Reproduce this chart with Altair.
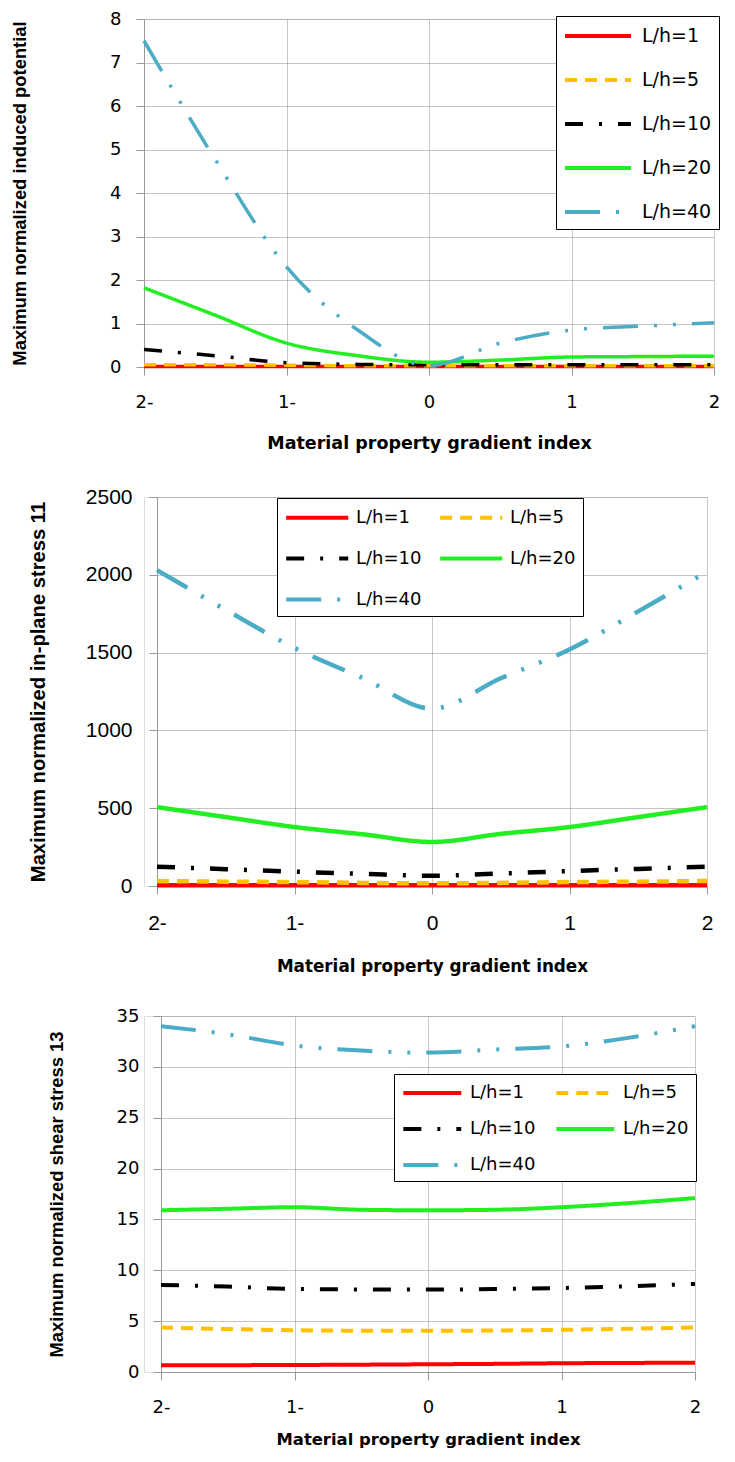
import altair as alt
import pandas as pd

# ---------------- data ----------------
x_index = [-2, -1.5, -1, -0.5, 0, 0.5, 1, 1.5, 2]
series_names = ["L/h=1", "L/h=5", "L/h=10", "L/h=20", "L/h=40"]
series_colors = ["#FF0000", "#FFC000", "#000000", "#22EE22", "#4BACC6"]
series_dashes = [[1, 0], [12, 8], [18, 16, 3, 16], [1, 0], [35, 16, 3, 16, 3, 16]]
x_ticks = [-2, -1, 0, 1, 2]

# panel 1: maximum normalized induced potential
pot_lh1 = [0.01, 0.01, 0.01, 0.01, 0.01, 0.01, 0.01, 0.01, 0.01]
pot_lh5 = [0.05, 0.05, 0.04, 0.03, 0.03, 0.03, 0.03, 0.03, 0.03]
pot_lh10 = [0.40, 0.26, 0.10, 0.06, 0.05, 0.05, 0.05, 0.05, 0.05]
pot_lh20 = [1.82, 1.19, 0.55, 0.26, 0.11, 0.16, 0.23, 0.24, 0.25]
pot_lh40 = [7.50, 4.77, 2.30, 0.85, 0.03, 0.55, 0.85, 0.94, 1.02]
pot_ticks = [0, 1, 2, 3, 4, 5, 6, 7, 8]

# panel 2: maximum normalized in-plane stress 11
s11_lh1 = [5, 5, 5, 5, 5, 5, 5, 5, 5]
s11_lh5 = [32, 28, 25, 20, 17, 20, 25, 28, 32]
s11_lh10 = [124, 108, 92, 78, 66, 80, 96, 110, 124]
s11_lh20 = [507, 443, 379, 332, 283, 335, 379, 443, 507]
s11_lh40 = [2030, 1775, 1530, 1335, 1140, 1335, 1520, 1765, 2020]
s11_ticks = [0, 500, 1000, 1500, 2000, 2500]

# panel 3: maximum normalized shear stress 13
s13_lh1 = [0.66, 0.67, 0.69, 0.72, 0.76, 0.80, 0.86, 0.89, 0.92]
s13_lh5 = [4.38, 4.22, 4.10, 4.06, 4.05, 4.08, 4.15, 4.25, 4.38]
s13_lh10 = [8.56, 8.40, 8.16, 8.12, 8.10, 8.16, 8.26, 8.43, 8.66]
s13_lh20 = [15.9, 16.05, 16.2, 15.95, 15.9, 15.95, 16.2, 16.6, 17.1]
s13_lh40 = [34.0, 33.2, 32.1, 31.6, 31.4, 31.7, 32.0, 32.85, 34.0]
s13_ticks = [0, 5, 10, 15, 20, 25, 30, 35]


def long_frame(columns):
    rows = []
    for name, vals in zip(series_names, columns):
        for xv, yv in zip(x_index, vals):
            rows.append({"index": xv, "value": yv, "series": name})
    return pd.DataFrame(rows)


X_LABEL_EXPR = "datum.value < 0 ? abs(datum.value) + '-' : '' + datum.value"
# legend line symbol: a horizontal stroke three times as long as the symbol "size"
LEGEND_LINE = "M-1,0L5,0"


def panel(df, y_title, y_ticks, width, height, x_range, y_offset,
          tick_font, tick_size, ytitle_size, ytitle_pad, y_label_pad,
          xtitle_size, xtitle_pad, legend_opts, stroke_width):
    legend = alt.Legend(
        title=None,
        orient="none",
        symbolType=LEGEND_LINE,
        symbolStrokeWidth=4,
        labelFont="DejaVu Sans",
        labelColor="#000000",
        strokeColor="#000000",
        fillColor="#FFFFFF",
        padding=7,
        **legend_opts,
    )
    x_axis = alt.Axis(
        values=x_ticks,
        labelExpr=X_LABEL_EXPR,
        labelFlush=False,
        title="Material property gradient index",
        titleFont="DejaVu Sans",
        titleFontWeight="bold",
        titleFontSize=xtitle_size,
        titleColor="#000000",
        titlePadding=xtitle_pad,
        labelFont=tick_font,
        labelFontSize=tick_size,
        labelColor="#000000",
        labelPadding=18,
        tickSize=8,
        tickColor="#999999",
        domainColor="#999999",
        grid=True,
        gridColor="#C8C8C8",
        gridWidth=1,
    )
    y_axis = alt.Axis(
        values=y_ticks,
        format="d",
        title=y_title,
        titleFont="Liberation Sans",
        titleFontWeight="bold",
        titleFontSize=ytitle_size,
        titleColor="#000000",
        titlePadding=ytitle_pad,
        labelFont=tick_font,
        labelFontSize=tick_size,
        labelColor="#000000",
        labelPadding=y_label_pad,
        tickSize=8,
        tickColor="#999999",
        domainColor="#999999",
        grid=True,
        gridColor="#888888",
        gridDash=[1, 1],
        gridWidth=1,
        offset=y_offset,
    )
    return (
        alt.Chart(df)
        .mark_line(interpolate="monotone", strokeWidth=stroke_width, strokeCap="butt")
        .encode(
            x=alt.X("index:Q", scale=alt.Scale(domain=[-2, 2], range=x_range, nice=False), axis=x_axis),
            y=alt.Y("value:Q", scale=alt.Scale(domain=[y_ticks[0], y_ticks[-1]], nice=False), axis=y_axis),
            color=alt.Color("series:N", sort=series_names,
                            scale=alt.Scale(domain=series_names, range=series_colors),
                            legend=legend),
            strokeDash=alt.StrokeDash("series:N", sort=series_names,
                                      scale=alt.Scale(domain=series_names, range=series_dashes),
                                      legend=legend),
        )
        .properties(width=width, height=height)
    )


p1 = panel(
    long_frame([pot_lh1, pot_lh5, pot_lh10, pot_lh20, pot_lh40]),
    "Maximum normalized induced potential", pot_ticks,
    570, 348, [0, 570], 0,
    "DejaVu Sans", 18, 18.4, 80, 15, 17.5, 23,
    dict(legendX=412, legendY=-3, direction="vertical", columns=1,
         symbolSize=22 * 22, labelFontSize=19, labelOffset=53, rowPadding=21),
    3.5,
)

p2 = panel(
    long_frame([s11_lh1, s11_lh5, s11_lh10, s11_lh20, s11_lh40]),
    "Maximum normalized in-plane stress 11", s11_ticks,
    563, 389, [13, 563], -13,
    "Liberation Sans", 21, 20.2, 37, 17, 16.8, 25,
    dict(legendX=133, legendY=1, direction="horizontal", columns=2,
         symbolSize=20.7 * 20.7, labelFontSize=18, labelOffset=47,
         rowPadding=19, columnPadding=10),
    4.5,
)

p3 = panel(
    long_frame([s13_lh1, s13_lh5, s13_lh10, s13_lh20, s13_lh40]),
    "Maximum normalized shear stress 13", s13_ticks,
    551, 356, [17, 551], -17,
    "DejaVu Sans", 18, 18.4, 50, 14, 16.4, 15,
    dict(legendX=250, legendY=58, direction="horizontal", columns=2,
         symbolSize=19.3 * 19.3, labelFontSize=18, labelOffset=45,
         rowPadding=15, columnPadding=12),
    4,
)

chart = (
    alt.vconcat(p1, p2, p3, spacing=130, bounds="flush")
    .resolve_scale(color="independent", strokeDash="independent")
    .resolve_legend(color="independent", strokeDash="independent")
    .properties(padding={"left": 2, "top": 1, "right": 0, "bottom": 0})
    .configure_view(strokeOpacity=0)
    .configure(background="#FFFFFF")
)

chart.save("out.html", embed_options={"renderer": "svg", "actions": False})
